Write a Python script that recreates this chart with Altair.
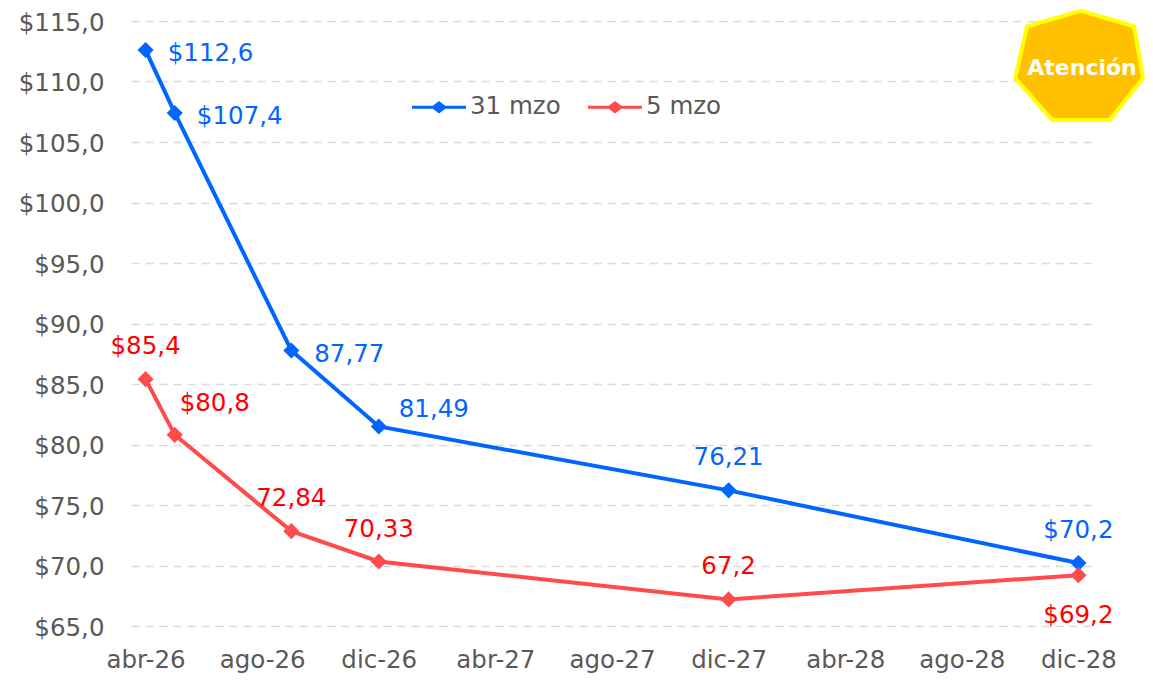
import altair as alt
import pandas as pd

months = ["abr-26","may-26","jun-26","jul-26","ago-26","sep-26","oct-26","nov-26","dic-26",
          "ene-27","feb-27","mar-27","abr-27","may-27","jun-27","jul-27","ago-27","sep-27","oct-27","nov-27","dic-27",
          "ene-28","feb-28","mar-28","abr-28","may-28","jun-28","jul-28","ago-28","sep-28","oct-28","nov-28","dic-28"]
tick_labels = months[::4]
point_months = ["abr-26","may-26","sep-26","dic-26","dic-27","dic-28"]
series_names = ["31 mzo","5 mzo"]
values_31 = [112.6,107.4,87.77,81.49,76.21,70.2]
values_5 = [85.4,80.8,72.84,70.33,67.2,69.2]
labels_31 = ["$112,6","$107,4","87,77","81,49","76,21","$70,2"]
labels_5 = ["$85,4","$80,8","72,84","70,33","67,2","$69,2"]
offsets_31 = [(65,4),(65,4),(58,5),(55,-16),(0,-32),(0,-32)]
offsets_5 = [(0,-32),(40,-31),(0,-32),(0,-32),(0,-32),(0,41)]

BLUE, RED, LABEL_RED, GREY = "#0066FF", "#FF4B4B", "#FF0000", "#595959"
FONT = "DejaVu Sans"
FS = 24.5

df = pd.DataFrame(
    [dict(mes=m, v=v, s="31 mzo") for m, v in zip(point_months, values_31)] +
    [dict(mes=m, v=v, s="5 mzo") for m, v in zip(point_months, values_5)]
)

x = alt.X("mes:N", scale=alt.Scale(type="point", domain=months, padding=0.5), title=None,
          axis=alt.Axis(values=tick_labels, labelAngle=0, domain=False, ticks=False, grid=False,
                        labelPadding=22, labelFontSize=FS, labelFont=FONT, labelColor=GREY))
y = alt.Y("v:Q", scale=alt.Scale(domain=[65,115], nice=False, zero=False), title=None,
          axis=alt.Axis(values=list(range(65,116,5)), labelExpr="'$' + format(datum.value,'d') + ',0'",
                        domain=False, ticks=False, grid=True, gridColor="#D9D9D9", gridDash=[8,6], gridWidth=1.5,
                        labelPadding=27, labelOffset=2, labelFontSize=FS, labelFont=FONT, labelColor=GREY))

legend_symbol = ("M-1,-0.06L-0.23,-0.06L0,-0.23L0.23,-0.06L1,-0.06L1,0.06L0.23,0.06L0,0.23L-0.23,0.06L-1,0.06Z")
color = alt.Color("s:N", scale=alt.Scale(domain=series_names, range=[BLUE, RED]),
                  legend=alt.Legend(orient="none", legendX=281, legendY=59, direction="horizontal", title=None,
                                    symbolType=legend_symbol, symbolSize=2916, symbolStrokeWidth=0,
                                    labelFontSize=FS, labelFont=FONT, labelColor=GREY, labelOffset=4,
                                    columnPadding=27, values=series_names))

lines = alt.Chart(df).mark_line(strokeWidth=4).encode(x=x, y=y, color=color, detail="s:N")
points = alt.Chart(df).mark_point(shape="diamond", filled=True, size=260, opacity=1).encode(
    x=x, y=y, color=alt.Color("s:N", scale=alt.Scale(domain=series_names, range=[BLUE, RED]), legend=None))

layers = [lines, points]
for vals, labs, offs, col in [(values_31, labels_31, offsets_31, BLUE), (values_5, labels_5, offsets_5, LABEL_RED)]:
    for m, v, lab, (dx, dy) in zip(point_months, vals, labs, offs):
        d = pd.DataFrame([dict(mes=m, v=v, t=lab)])
        layers.append(alt.Chart(d).mark_text(dx=dx, dy=dy, fontSize=FS, font=FONT, color=col).encode(
            x=alt.X("mes:N", scale=alt.Scale(type="point", domain=months, padding=0.5)),
            y=alt.Y("v:Q", scale=alt.Scale(domain=[65,115], nice=False, zero=False)),
            text="t:N"))

heptagon = "M0,-0.73L0.757,-0.51L0.885,0.23L0.41,0.83L-0.41,0.83L-0.94,0.23L-0.77,-0.51Z"
badge_df = pd.DataFrame([dict(t="Atención")])
badge = alt.Chart(badge_df).mark_point(shape=heptagon, filled=True, fill="#FFC000", stroke="#FFFF00",
                                       strokeWidth=4, size=19600, opacity=1).encode(
    x=alt.value(950), y=alt.value(41))
badge_text = alt.Chart(badge_df).mark_text(fontSize=22, font=FONT, fontWeight="bold", color="#FFFFFF").encode(
    x=alt.value(951), y=alt.value(47), text="t:N")
layers += [badge, badge_text]

chart = alt.layer(*layers).resolve_scale(x="shared", y="shared").properties(
    width=962, height=605,
    autosize=alt.AutoSizeParams(type="none"),
    padding={"left":123,"top":13,"right":52,"bottom":47},
    background="white",
).configure_view(stroke=None)

chart.save("out.html", embed_options={"renderer": "svg", "actions": False})
